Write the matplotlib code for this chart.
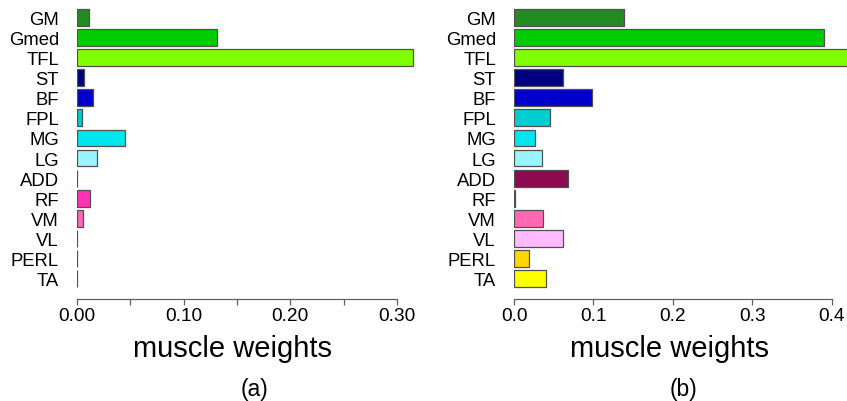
import matplotlib
import numpy as np

matplotlib.use("Agg")
import matplotlib.pyplot as plt

plt.rcParams["font.family"] = ["Liberation Sans", "DejaVu Sans"]

muscles = ["GM", "Gmed", "TFL", "ST", "BF", "FPL", "MG", "LG",
           "ADD", "RF", "VM", "VL", "PERL", "TA"]
colors = ["#228B22", "#00CD00", "#7FFF00", "#000080", "#0000CD", "#00CED1",
          "#00E5EE", "#98F5FF", "#8B0A50", "#FF34B3", "#FF69B4", "#FFBBFF",
          "#FFD700", "#FFFF00"]
weights_a = [0.0116, 0.131, 0.315, 0.0069, 0.0147, 0.0047, 0.045, 0.0188,
             0.0, 0.0125, 0.0059, 0.0, 0.0, 0.0]
weights_b = [0.139, 0.39, 0.44, 0.062, 0.098, 0.045, 0.026, 0.035,
             0.068, 0.001, 0.036, 0.062, 0.019, 0.040]

W, H = 847, 402
fig = plt.figure(figsize=(W / 100, H / 100), dpi=100)


def panel(left, right, xmax, weights, ticks, minor, fmt, tag, label_x, tag_x):
    ax = fig.add_axes([left / W, (H - 300) / H, (right - left) / W, 300 / H])
    y = np.arange(len(muscles))
    ax.barh(y, weights, height=0.833, color=colors, edgecolor="#505050", linewidth=0.9)
    ax.set_xlim(0, xmax)
    ax.set_ylim(14.01, -0.91)
    for s in ["top", "right", "left"]:
        ax.spines[s].set_visible(False)
    ax.spines["bottom"].set_bounds(ticks[0], ticks[-1])
    ax.spines["bottom"].set_color("#606060")
    ax.spines["bottom"].set_linewidth(0.9)
    ax.set_yticks(y)
    ax.set_yticklabels(muscles, fontsize=13.3)
    ax.tick_params(axis="y", length=0, pad=13)
    ax.set_xticks(ticks)
    ax.set_xticklabels([fmt.format(t) for t in ticks], fontsize=13.8)
    ax.set_xticks(minor, minor=True)
    ax.tick_params(axis="x", which="both", length=4, width=0.9, color="#606060", pad=2)
    ax.set_clip_on(True)
    fig.text(label_x / W, 1 - 349 / H, "muscle weights", fontsize=21,
             ha="center", va="center")
    fig.text(tag_x / W, 1 - 390 / H, tag, fontsize=16.5, ha="center", va="center")
    return ax


panel(77, 429, 0.33, weights_a, [0.0, 0.10, 0.20, 0.30], [0.05, 0.15, 0.25],
      "{:.2f}", "(a)", 232, 254)
panel(514, 847, 0.419, weights_b, [0.0, 0.1, 0.2, 0.3, 0.4], [],
      "{:.1f}", "(b)", 670, 683)

fig.savefig("out.png", dpi=100)
